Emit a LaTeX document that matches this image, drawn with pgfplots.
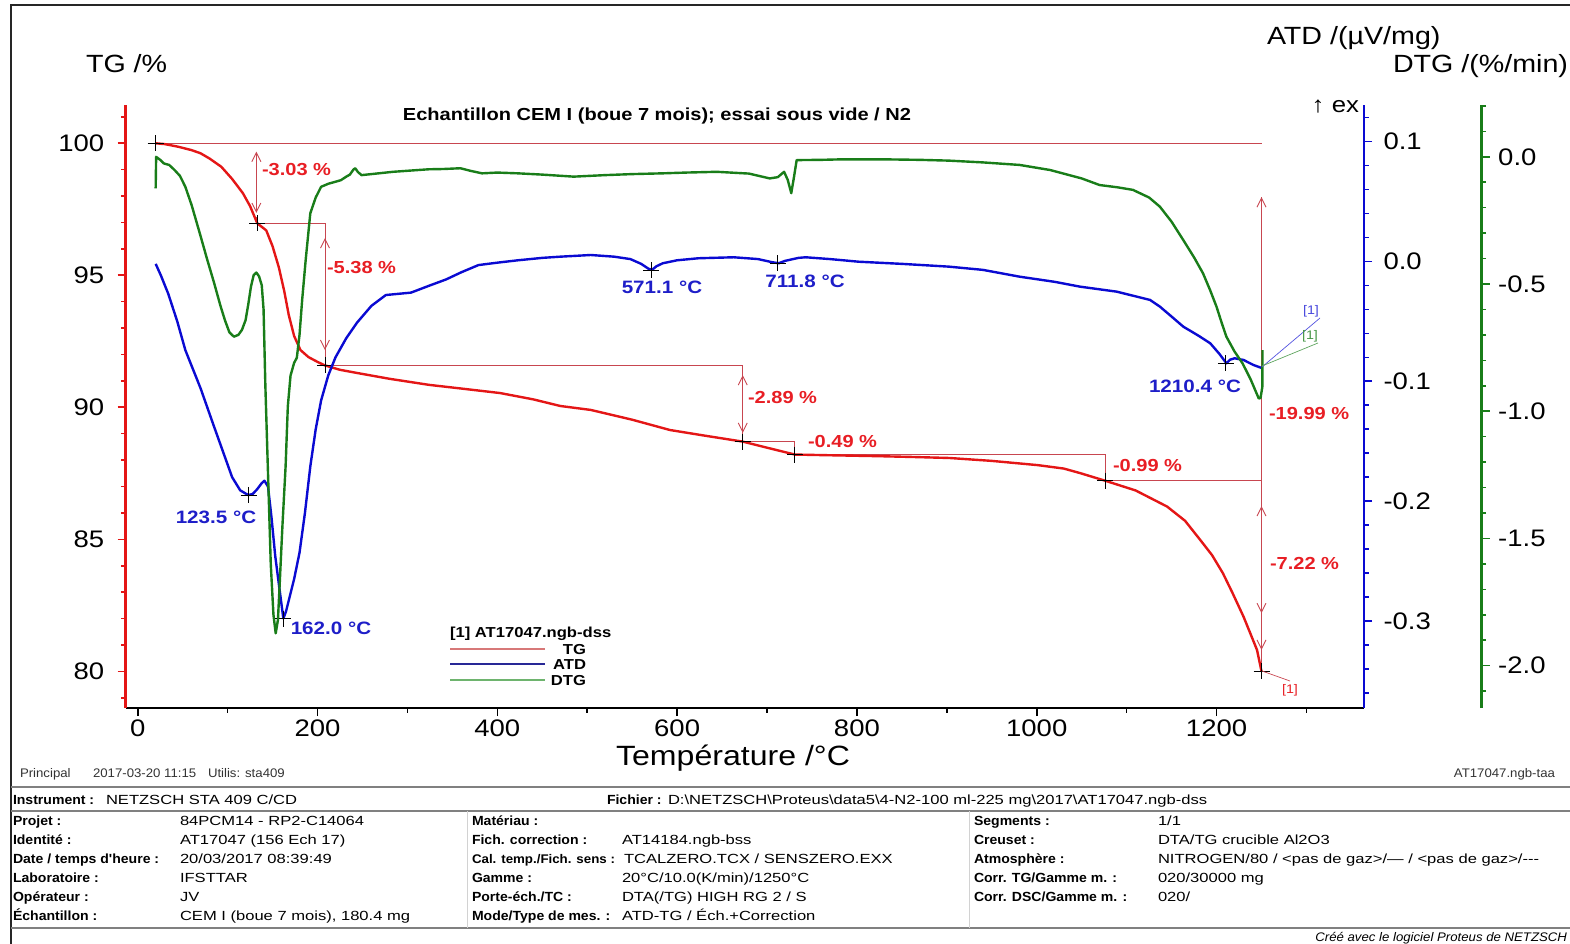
\documentclass[border=0pt]{standalone}
\usepackage{pgfplots}
\pgfplotsset{compat=1.18}
\usepackage{pgfplotstable}
\usepackage{fontspec}
\setmainfont{Liberation Sans}[FakeStretch=1.15]
\newfontfamily\tablab{Liberation Sans}[FakeStretch=1.06]
\newfontfamily\tabval{Liberation Sans}[FakeStretch=1.25]
\usetikzlibrary{arrows.meta}

\definecolor{tgred}{RGB}{228,22,22}
\definecolor{atdblue}{RGB}{10,10,210}
\definecolor{dtggreen}{RGB}{25,125,25}
\definecolor{annred}{RGB}{200,70,80}
\definecolor{txtred}{RGB}{232,30,36}
\definecolor{txtblue}{RGB}{30,30,200}
\definecolor{legred}{RGB}{215,120,120}
\definecolor{legblue}{RGB}{40,40,150}
\definecolor{leggreen}{RGB}{110,180,110}

\newcommand\fs[1]{\fontsize{#1}{#1}\selectfont}

\tikzset{
  ann/.style={annred, line width=0.9bp},
  dbl/.style={annred, line width=0.9bp,
    {Straight Barb[length=9bp,width=9bp]}-{Straight Barb[length=9bp,width=9bp]}},
  plus/.style={only marks, mark=+, mark size=8bp, black, mark options={line width=0.9bp}},
  curve/.style={line width=2.4bp, line join=round},
}

% TG /% against temperature
\pgfplotstableread{
T TG
20 100.00
30 99.97
45 99.87
60 99.74
70 99.62
80 99.42
93 99.11
105 98.65
117 98.11
125 97.62
133 96.97
143 96.70
150 96.10
157 95.30
163 94.40
168 93.50
174 92.70
181 92.17
190 91.90
200 91.72
208 91.59
225 91.42
244 91.30
280 91.08
324 90.85
360 90.71
403 90.54
440 90.30
470 90.05
504 89.90
550 89.53
592 89.14
630 88.93
673 88.70
700 88.47
725 88.26
731 88.21
760 88.19
822 88.15
860 88.12
903 88.08
950 87.97
1001 87.81
1030 87.68
1048 87.51
1076 87.22
1110 86.85
1145 86.24
1165 85.70
1182 84.97
1195 84.40
1207 83.72
1218 82.95
1230 82.07
1238 81.40
1245 80.81
1250 80.00
}\tgdata

% ATD /(uV/mg)
\pgfplotstableread{
T ATD
20 -0.002
26 -0.012
34 -0.027
44 -0.050
53 -0.074
70 -0.106
85 -0.138
95 -0.159
105 -0.180
114 -0.191
123 -0.195
128 -0.194
133 -0.190
138 -0.185
141 -0.183
145 -0.188
149 -0.215
153 -0.246
158 -0.275
162 -0.298
165 -0.292
168 -0.283
174 -0.265
180 -0.243
186 -0.210
192 -0.171
198 -0.140
204 -0.116
212 -0.095
220 -0.080
232 -0.064
244 -0.051
260 -0.037
276 -0.028
290 -0.027
304 -0.026
325 -0.020
343 -0.015
360 -0.009
379 -0.003
400 -0.001
423 0.001
450 0.003
470 0.004
504 0.0054
530 0.004
548 0.002
560 -0.002
568 -0.006
572 -0.007
577 -0.004
584 -0.0015
600 0.001
624 0.0027
663 0.0035
690 0.002
705 -0.0005
713 -0.0015
720 0.0005
735 0.003
743 0.0035
770 0.002
802 -0.0002
850 -0.002
902 -0.0043
940 -0.007
981 -0.0127
1020 -0.017
1048 -0.021
1089 -0.0252
1126 -0.0321
1137 -0.0377
1150 -0.046
1163 -0.0544
1180 -0.062
1193 -0.0683
1203 -0.077
1211 -0.085
1215 -0.082
1220 -0.0808
1225 -0.0815
1230 -0.0822
1241 -0.0864
1251 -0.0891
}\atddata

% DTG /(%/min)
\pgfplotstableread{
T DTG
20 -0.124
20.5 0.000
25 -0.012
29 -0.026
35 -0.032
41 -0.052
47 -0.075
53 -0.118
60 -0.190
69 -0.300
77 -0.400
85 -0.496
92 -0.585
97 -0.642
102 -0.690
107 -0.707
112 -0.700
116 -0.680
120 -0.642
123 -0.580
126 -0.510
129 -0.465
132 -0.455
135 -0.470
138 -0.505
140 -0.600
142 -0.900
145 -1.250
148 -1.600
151 -1.800
153.5 -1.873
156 -1.820
158 -1.675
161 -1.450
164.5 -1.218
167 -0.980
170 -0.860
174 -0.810
177 -0.790
180 -0.700
183 -0.560
187 -0.400
192 -0.222
198 -0.160
204 -0.118
212 -0.106
220 -0.098
226 -0.092
232 -0.078
236 -0.070
240 -0.050
242 -0.045
245 -0.060
249 -0.072
260 -0.068
284 -0.059
300 -0.055
324 -0.049
340 -0.048
359 -0.045
370 -0.055
383 -0.065
400 -0.062
423 -0.065
450 -0.070
485 -0.078
520 -0.072
550 -0.068
584 -0.065
610 -0.062
644 -0.059
680 -0.066
703 -0.085
712 -0.080
719 -0.059
723 -0.090
727 -0.143
730 -0.080
733 -0.013
760 -0.012
783 -0.010
830 -0.010
870 -0.012
902 -0.015
940 -0.022
981 -0.032
1015 -0.052
1050 -0.085
1070 -0.111
1090 -0.120
1107 -0.130
1125 -0.160
1137 -0.196
1150 -0.255
1163 -0.327
1175 -0.395
1185 -0.458
1193 -0.525
1200 -0.589
1206 -0.655
1211 -0.707
1220 -0.765
1229 -0.812
1238 -0.875
1244 -0.925
1247 -0.950
1249 -0.948
1251 -0.904
1251.2 -0.760
}\dtgdata

\begin{document}
\begin{tikzpicture}
\useasboundingbox (0,0) rectangle (1570bp,-944bp);

% ---- TG axis (left, red) with x axis
\begin{axis}[
  at={(125.7bp,-708bp)}, anchor=south west,
  width=1238.3bp, height=603bp, scale only axis,
  xmin=-13.35, xmax=1364, ymin=78.61, ymax=101.45,
  axis x line*=bottom, axis y line*=left,
  x axis line style={-, black, line width=2.2bp},
  y axis line style={-, tgred, line width=2.5bp},
  xtick={0,200,...,1200}, minor xtick={100,300,...,1300},
  xticklabels={0,200,400,600,800,1000,1200},
  ytick={80,85,...,100}, minor ytick={79,80,...,101},
  yticklabels={80,85,90,95,100},
  tick align=outside,
  major tick length=8bp, minor tick length=4.5bp,
  x tick style={black, line width=1.6bp},
  y tick style={tgred, line width=1.6bp},
  ticklabel style={font=\fs{24}, black},
  yticklabel style={xshift=-10bp},
]
\addplot[ann] coordinates {(20,100) (1250,100)};
\addplot[ann] coordinates {(133,96.97) (208.3,96.97)};
\addplot[ann] coordinates {(208.3,91.59) (673,91.59)};
\addplot[ann] coordinates {(673,88.70) (731,88.70) (731,88.21)};
\addplot[ann] coordinates {(731,88.21) (1076,88.21) (1076,87.22)};
\addplot[ann] coordinates {(1076,87.22) (1250,87.22)};
\addplot[ann] coordinates {(1250,97.96) (1250,80)};
\addplot[ann] coordinates {(132,97.2) (132,96.97)};
\addplot[ann] coordinates {(208.3,96.97) (208.3,91.59)};
\addplot[ann] coordinates {(673,91.59) (673,88.70)};
\addplot[dbl] coordinates {(132,99.68) (132,97.36)};
\addplot[dbl] coordinates {(208.3,96.41) (208.3,92.17)};
\addplot[dbl] coordinates {(673,91.22) (673,89.03)};
\addplot[dbl] coordinates {(1250,97.96) (1250,80.81)};
\addplot[dbl] coordinates {(1250,86.26) (1250,82.2)};
\addplot[tgred, curve] table[x=T, y=TG] {\tgdata};
\addplot[plus] coordinates {(20,100) (133,96.97) (208.3,91.59) (673,88.70)
  (731,88.21) (1076,87.22) (1250,80.0)};
\end{axis}

% ---- ATD axis (right, blue)
\begin{axis}[
  at={(125.7bp,-708bp)}, anchor=south west,
  width=1238.3bp, height=603bp, scale only axis,
  xmin=-13.35, xmax=1364, ymin=-0.3727, ymax=0.1306,
  hide x axis, axis y line*=right,
  y axis line style={-, atdblue, line width=2.5bp},
  ytick={-0.3,-0.2,-0.1,0,0.1},
  yticklabels={-0.3,-0.2,-0.1,0.0,0.1},
  minor ytick={-0.36,-0.34,...,0.125},
  tick align=outside,
  major tick length=8bp, minor tick length=4.5bp,
  y tick style={atdblue, line width=1.6bp},
  ticklabel style={font=\fs{24}, black},
  yticklabel style={xshift=8bp},
]
\addplot[atdblue, curve] table[x=T, y=ATD] {\atddata};
\addplot[plus] coordinates {(123.5,-0.1949) (162.0,-0.2981) (571.1,-0.0071)
  (711.8,-0.0015) (1210.4,-0.085)};
\end{axis}

% ---- DTG axis (outer right, green)
\begin{axis}[
  at={(125.7bp,-708bp)}, anchor=south west,
  width=1356bp, height=603bp, scale only axis,
  xmin=-13.35, xmax=1495, ymin=-2.1666, ymax=0.2036,
  hide x axis, axis y line*=right,
  y axis line style={-, dtggreen, line width=2.5bp},
  ytick={-2,-1.5,-1,-0.5,0},
  yticklabels={-2.0,-1.5,-1.0,-0.5,0.0},
  minor ytick={-2.1,-2.0,...,0.25},
  tick align=outside,
  major tick length=8bp, minor tick length=4.5bp,
  y tick style={dtggreen, line width=1.6bp},
  ticklabel style={font=\fs{24}, black},
  yticklabel style={xshift=5bp},
]
\addplot[dtggreen, curve] table[x=T, y=DTG] {\dtgdata};
\end{axis}

\begin{scope}[x=1bp, y=-1bp, every node/.style={inner sep=0pt, outer sep=0pt}]
% frame
\draw[black!85, line width=2.5bp] (11,944) -- (11,5) -- (1570,5);
% axis unit labels
\node[anchor=base west, font=\fs{25}] at (86,72) {TG /\%};
\node[anchor=base west, font=\fs{25}] at (1267,44) {ATD /(µV/mg)};
\node[anchor=base west, font=\fs{25}] at (1393,72) {DTG /(\%/min)};
\node[anchor=base east, font=\fs{22.5}] at (1359,112) {↑ ex};
\node[font=\bfseries\fs{17.5}] at (657,116) {Echantillon CEM I (boue 7 mois); essai sous vide / N2};
\node[anchor=base, font=\fs{28}] at (733,765) {Température /°C};
% step labels
\begin{scope}[every node/.append style={anchor=west, font=\bfseries\fs{17.5}, text=txtred}]
\node at (262,170) {-3.03 \%};
\node at (327,268) {-5.38 \%};
\node at (748,397) {-2.89 \%};
\node at (808,441) {-0.49 \%};
\node at (1113,465) {-0.99 \%};
\node at (1269,413) {-19.99 \%};
\node at (1270,563) {-7.22 \%};
\end{scope}
% peak labels
\begin{scope}[every node/.append style={font=\bfseries\fs{18}, text=txtblue}]
\node at (216,517) {123.5 °C};
\node at (331,628) {162.0 °C};
\node at (662,287) {571.1 °C};
\node at (805,281) {711.8 °C};
\node at (1195,386) {1210.4 °C};
\end{scope}
% [1] tags
\draw[atdblue!70, line width=0.7bp] (1262,367) -- (1320,318);
\draw[dtggreen!70, line width=0.7bp] (1262,366) -- (1318,343);
\draw[annred, line width=0.7bp] (1262,671) -- (1290,681);
\node[font=\fs{12.5}, text=atdblue!75] at (1311,311) {[1]};
\node[font=\fs{12.5}, text=dtggreen!80] at (1310,336) {[1]};
\node[font=\fs{12.5}, text=txtred] at (1290,690) {[1]};
% legend
\node[anchor=base west, font=\bfseries\fs{14.5}] at (450,637) {[1] AT17047.ngb-dss};
\draw[legred, line width=1.3bp] (450,649) -- (545,649);
\draw[legblue, line width=1.3bp] (450,664) -- (545,664);
\draw[leggreen, line width=1.3bp] (450,680) -- (545,680);
\node[anchor=base east, font=\bfseries\fs{14.5}] at (586,654) {TG};
\node[anchor=base east, font=\bfseries\fs{14.5}] at (586,669) {ATD};
\node[anchor=base east, font=\bfseries\fs{14.5}] at (586,685) {DTG};
% footer
\begin{scope}[every node/.append style={anchor=base west, font=\tablab\fs{12.5}, text=black!80}]
\node at (20,777) {Principal};
\node at (93,777) {2017-03-20 11:15};
\node at (208,777) {Utilis: sta409};
\node[anchor=base east] at (1555,777) {AT17047.ngb-taa};
\end{scope}
% table
\draw[gray, line width=1.8bp] (11,787) -- (1570,787);
\draw[gray, line width=1.8bp] (11,811) -- (1570,811);
\draw[gray, line width=1.8bp] (11,928) -- (1570,928);
\draw[gray!35, line width=1bp] (467,811) -- (467,928);
\draw[gray!35, line width=1bp] (969,811) -- (969,928);
\begin{scope}[every node/.append style={anchor=base west, font=\tablab\bfseries\fs{13.3}}]
\node at (13,804) {Instrument :};
\node at (607,804) {Fichier :};
\node at (13,825) {Projet :};
\node at (13,844) {Identité :};
\node at (13,863) {Date / temps d'heure :};
\node at (13,882) {Laboratoire :};
\node at (13,901) {Opérateur :};
\node at (13,920) {Échantillon :};
\node at (472,825) {Matériau :};
\node at (472,844) {Fich. correction :};
\node[font=\tablab\bfseries\fs{12.6}] at (472,863) {Cal. temp./Fich. sens :};
\node at (472,882) {Gamme :};
\node at (472,901) {Porte-éch./TC :};
\node at (472,920) {Mode/Type de mes. :};
\node at (974,825) {Segments :};
\node at (974,844) {Creuset :};
\node at (974,863) {Atmosphère :};
\node at (974,882) {Corr. TG/Gamme m. :};
\node at (974,901) {Corr. DSC/Gamme m. :};
\end{scope}
\begin{scope}[every node/.append style={anchor=base west, font=\tabval\fs{13.3}}]
\node at (106,804) {NETZSCH STA 409 C/CD};
\node at (668,804) {D:\textbackslash NETZSCH\textbackslash Proteus\textbackslash data5\textbackslash 4-N2-100 ml-225 mg\textbackslash 2017\textbackslash AT17047.ngb-dss};
\node at (180,825) {84PCM14 - RP2-C14064};
\node at (180,844) {AT17047 (156 Ech 17)};
\node at (180,863) {20/03/2017 08:39:49};
\node at (180,882) {IFSTTAR};
\node at (180,901) {JV};
\node at (180,920) {CEM I (boue 7 mois), 180.4 mg};
\node at (622,844) {AT14184.ngb-bss};
\node at (624,863) {TCALZERO.TCX / SENSZERO.EXX};
\node at (622,882) {20°C/10.0(K/min)/1250°C};
\node at (622,901) {DTA(/TG) HIGH RG 2 / S};
\node at (622,920) {ATD-TG / Éch.+Correction};
\node at (1158,825) {1/1};
\node at (1158,844) {DTA/TG crucible Al2O3};
\node at (1158,863) {NITROGEN/80 / <pas de gaz>/— / <pas de gaz>/{-}{-}{-}};
\node at (1158,882) {020/30000 mg};
\node at (1158,901) {020/};
\end{scope}
\node[anchor=base east, font=\tablab\itshape\fs{12.5}] at (1567,941) {Créé avec le logiciel Proteus de NETZSCH};
\end{scope}
\end{tikzpicture}
\end{document}
